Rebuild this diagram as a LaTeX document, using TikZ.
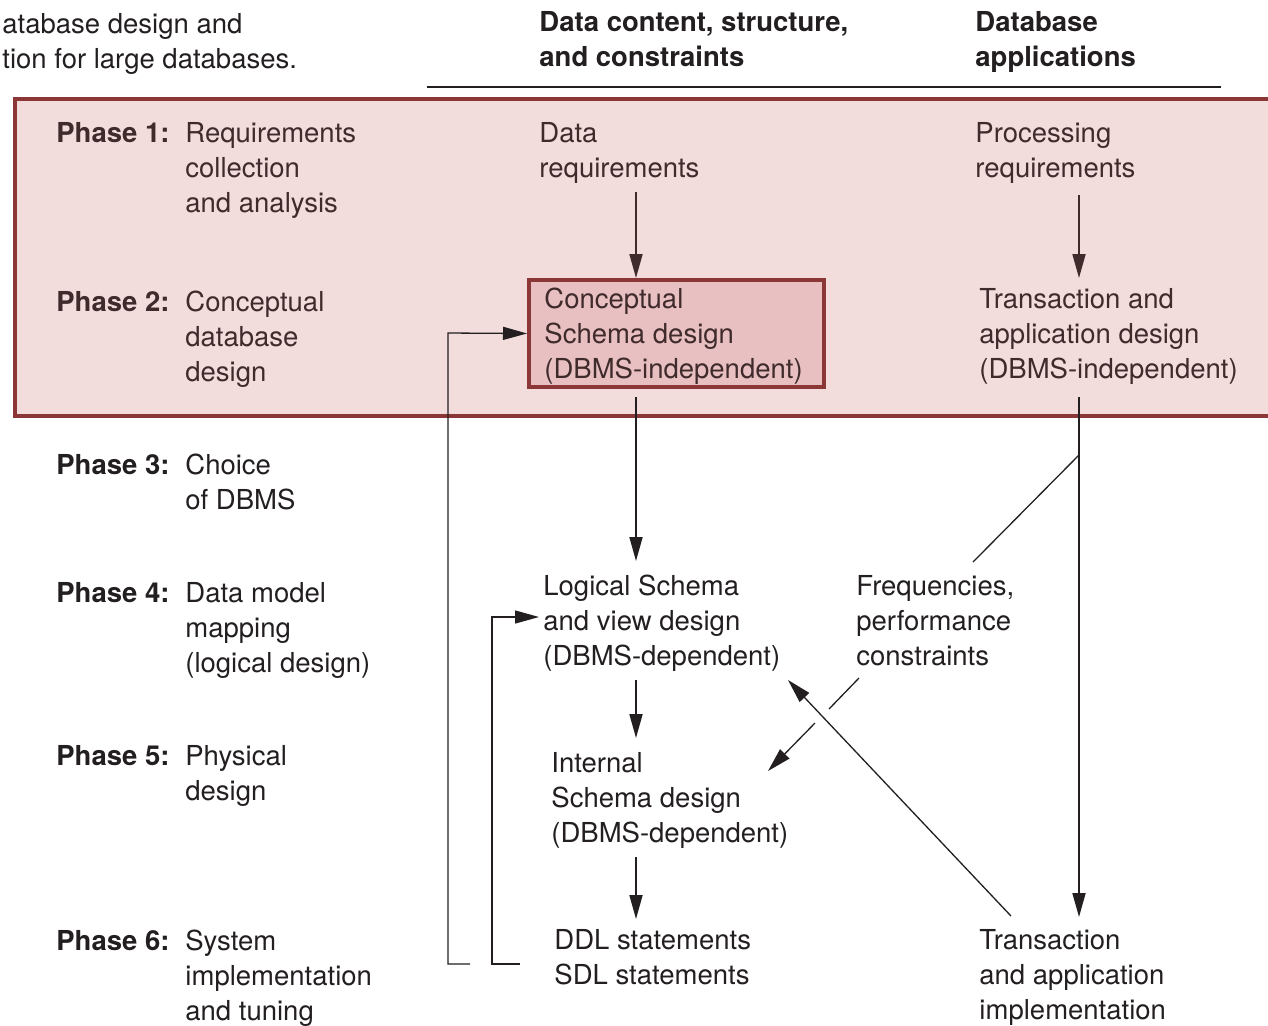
\documentclass[tikz,border=0pt]{standalone}
\usepackage{fontspec}
\setmainfont{TeX Gyre Heros}
\usetikzlibrary{arrows.meta}
\definecolor{maroon}{HTML}{8C3737}
\definecolor{bandfill}{HTML}{F2DCDC}
\definecolor{boxfill}{HTML}{E8C0C1}
\definecolor{ink}{HTML}{231F20}
\definecolor{inkin}{HTML}{3F2A2C}
\begin{document}
\begin{tikzpicture}[x=0.5pt,y=-0.5pt,
  txt/.style={anchor=base west, align=left, inner sep=0pt,
    font=\fontsize{13.75}{17.5}\selectfont, text=ink},
  intxt/.style={txt, text=inkin},
  hd/.style={txt, font=\fontsize{13.75}{17.5}\selectfont\bfseries},
  hdin/.style={hd, text=inkin},
  conn/.style={draw=ink, line width=0.65pt},
  vconn/.style={draw=ink, line width=0.9pt},
  tipstyle/.style={-{Triangle[length=12pt,width=6.5pt]}},
  arr/.style={conn, tipstyle},
  varr/.style={vconn, tipstyle},
]
\clip (0,0) rectangle (1268,1025);
\fill[white] (0,0) rectangle (1268,1025);

% band for phases 1 and 2
\draw[draw=maroon, fill=bandfill, line width=2pt] (15,99) rectangle (1300,416);

% header (multi-line nodes are anchored at the baseline of their last line)
\node[txt] (cap1) at (2,33) {atabase design and};
\node[txt] (cap2) at (2,68) {tion for large databases.};
\node[hd] (h1) at (539,66) {Data content, structure,\\and constraints};
\node[hd] (h2) at (975,66) {Database\\applications};
\coordinate (rl) at (427,87);
\coordinate (rr) at (1221,87);
\draw[conn] (rl) -- (rr);

% phase labels
\node[hdin] (p1) at (56,142) {Phase 1:};
\node[intxt] (p1t) at (185,212) {Requirements\\collection\\and analysis};
\node[hdin] (p2) at (56,311) {Phase 2:};
\node[intxt] (p2t) at (185,381) {Conceptual\\database\\design};
\node[hd] (p3) at (56,474) {Phase 3:};
\node[txt] (p3t) at (185,509) {Choice\\of DBMS};
\node[hd] (p4) at (56,602) {Phase 4:};
\node[txt] (p4t) at (185,672) {Data model\\mapping\\(logical design)};
\node[hd] (p5) at (56,765) {Phase 5:};
\node[txt] (p5t) at (185,800) {Physical\\design};
\node[hd] (p6) at (56,950) {Phase 6:};
\node[txt] (p6t) at (185,1020) {System\\implementation\\and tuning};

% column content
\node[intxt] (dreq) at (539,177) {Data\\requirements};
\node[intxt] (preq) at (975,177) {Processing\\requirements};
\node[draw=maroon, fill=boxfill, line width=2pt, minimum width=147.5pt,
      minimum height=53.5pt, inner sep=0pt] (cbox) at (676.5,333.5) {};
\node[intxt] (ctxt) at (544,378) {Conceptual\\Schema design\\(DBMS-independent)};
\node[intxt] (tdes) at (979,378) {Transaction and\\application design\\(DBMS-independent)};
\node[txt] (lsch) at (543,665) {Logical Schema\\and view design\\(DBMS-dependent)};
\node[txt] (freq) at (856,665) {Frequencies,\\performance\\constraints};
\node[txt] (isch) at (551,842) {Internal\\Schema design\\(DBMS-dependent)};
\node[txt] (ddl) at (554,984) {DDL statements\\SDL statements};
\node[txt] (timp) at (979,1019) {Transaction\\and application\\implementation};

% connector points
\coordinate (a1s) at (636,192);
\coordinate (a2s) at (1079,195);
\coordinate (a2e) at (1079,278);
\coordinate (a3s) at (636,397);
\coordinate (a3e) at (636,561);
\coordinate (a4s) at (1079,397);
\coordinate (a4e) at (1079,917);
\coordinate (fa) at (1079,455);
\coordinate (fb) at (973,562);
\coordinate (c1) at (859,678);
\coordinate (c2) at (829,709);
\coordinate (c3) at (815,723);
\coordinate (c4) at (768,771);
\coordinate (d1) at (1011,916);
\coordinate (d2) at (788,680);
\coordinate (a8s) at (636,680);
\coordinate (a8e) at (636,738);
\coordinate (a9s) at (636,857);
\coordinate (a9e) at (636,919);
\coordinate (l1a) at (470,964);
\coordinate (l1b) at (448,964);
\coordinate (l1c) at (448,333);
\coordinate (l2a) at (520,964);
\coordinate (l2b) at (492,964);
\coordinate (l2c) at (492,617);
\coordinate (l2d) at (539,617);

% connectors
\draw[varr, draw=inkin] (a1s) -- (a1s |- cbox.north);
\draw[varr, draw=inkin] (a2s) -- (a2e);
\draw[varr] (a3s) -- (a3e);
\draw[varr] (a4s) -- (a4e);
\draw[conn] (fa) -- (fb);
\draw[conn] (c1) -- (c2);
\draw[arr] (c3) -- (c4);
\draw[arr] (d1) -- (d2);
\draw[varr] (a8s) -- (a8e);
\draw[varr] (a9s) -- (a9e);
\draw[arr] (l1a) -- (l1b) -- (l1c) -- (cbox.west);
\draw[arr] (l2a) -- (l2b) -- (l2c) -- (l2d);
\end{tikzpicture}
\end{document}
